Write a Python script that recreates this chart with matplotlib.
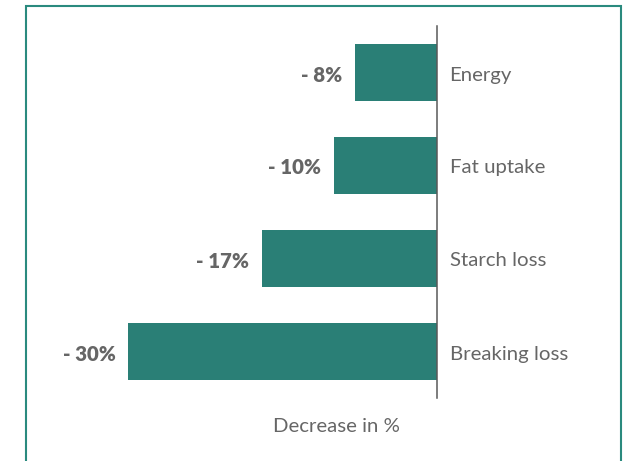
import matplotlib
matplotlib.use("Agg")
import matplotlib.pyplot as plt
from matplotlib.patches import Rectangle

categories = ["Energy", "Fat uptake", "Starch loss", "Breaking loss"]
decrease = [-8, -10, -17, -30]
value_labels = ["- 8%", "- 10%", "- 17%", "- 30%"]
axis_title = "Decrease in %"

bar_color = "#2a7f76"
text_color = "#666666"
frame_color = "#2a8a7e"

plt.rcParams["font.family"] = ["Lato", "DejaVu Sans"]
FS = 14.7

W, H = 632, 461
fig = plt.figure(figsize=(W / 100, H / 100), dpi=100)

# axes placed in pixel terms: left 30, right 437, top 26, bottom 398
ax_l, ax_r, ax_t, ax_b = 30, 437, 26, 398
ax = fig.add_axes([ax_l / W, 1 - ax_b / H, (ax_r - ax_l) / W, (ax_b - ax_t) / H])

px_per_unit = 10.3
ax.set_xlim(-(ax_r - ax_l) / px_per_unit, 0)
ax.set_ylim(len(categories) - 0.5, -0.5)

ypos = list(range(len(categories)))
ax.barh(ypos, decrease, height=0.61, color=bar_color, zorder=2)

for y, v, lab, cat in zip(ypos, decrease, value_labels, categories):
    ax.annotate(lab, xy=(v, y), xytext=(-9, -1.8), textcoords="offset points",
                ha="right", va="center", fontsize=FS, fontweight="heavy",
                color=text_color)
    ax.annotate(cat, xy=(0, y), xytext=(9, -1.8), textcoords="offset points",
                ha="left", va="center", fontsize=FS, color=text_color,
                annotation_clip=False)

for s in ["top", "bottom", "left"]:
    ax.spines[s].set_visible(False)
ax.spines["right"].set_color("#595959")
ax.spines["right"].set_linewidth(1.1)
ax.set_xticks([])
ax.set_yticks([])
ax.patch.set_alpha(0)

fig.text(336 / W, 1 - 426 / H, axis_title, ha="center", va="center",
         fontsize=FS, color=text_color)

# outer frame (its bottom edge runs off the canvas)
fig.patches.append(Rectangle((25.5 / W, -0.05), (621 - 25.5) / W,
                             1 - 6.5 / H + 0.05, transform=fig.transFigure,
                             fill=False, edgecolor=frame_color, linewidth=1.5))

fig.savefig("out.png", dpi=100)
